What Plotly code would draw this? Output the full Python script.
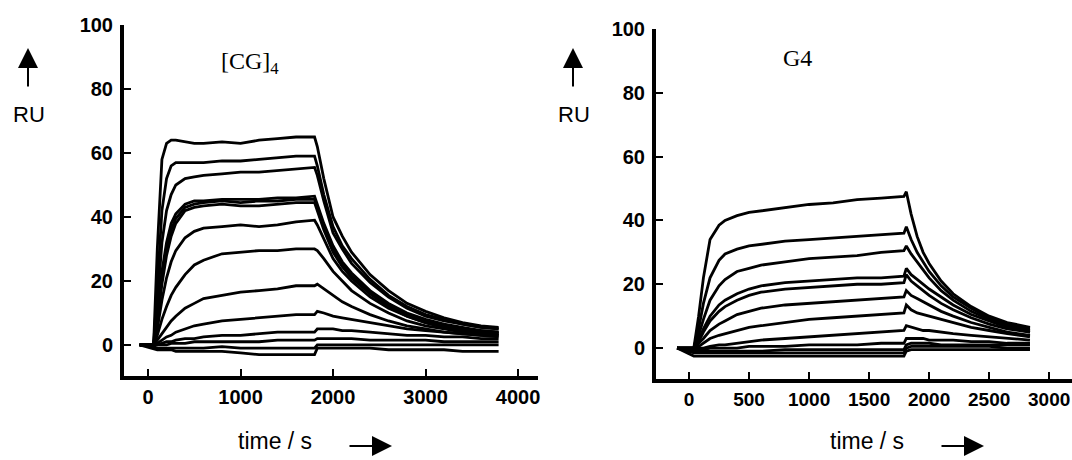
import plotly.graph_objects as go

# ---------------- data: [CG]4 panel (time in s, response in RU) ----------------
t_cg = [-90, 60, 100, 150, 200, 250, 300, 400, 500, 600, 800, 1000, 1200, 1400, 1600,
        1800, 1830, 1900, 2000, 2100, 2200, 2400, 2600, 2800, 3000, 3200, 3400, 3600, 3790]

cg_01 = [0, 0, 30, 58, 63, 64, 64, 63.5, 63, 63, 63.5, 63, 64, 64.5, 65, 65, 62, 52, 40, 34, 29, 22, 17, 13, 10.5, 8.5, 7, 6, 5.5]
cg_02 = [0, 0, 18, 42, 52, 56, 57, 57, 57, 57, 57.5, 57.5, 58, 58.5, 59, 59, 56, 47, 37, 31, 27, 20.5, 15.5, 12, 9.5, 8, 6.5, 5.5, 5]
cg_03 = [0, 0, 13, 32, 42, 47, 50, 52, 52.5, 53, 53.5, 54, 54, 54.5, 55, 55.5, 53, 45, 35, 30, 25.5, 19.5, 15, 11.5, 9, 7.5, 6.5, 5.5, 5]
cg_04 = [0, 0, 9, 23, 32, 38, 41, 44, 45, 45, 45.5, 45.5, 45.5, 46, 46, 46.5, 44, 38, 31, 26, 22.5, 17, 13, 10, 8, 6.5, 5.5, 4.5, 4]
cg_05 = [0, 0, 8, 21, 30, 36, 39.5, 43, 44, 44.5, 45, 44.5, 45, 45, 45.5, 45.5, 43, 37, 30, 25, 21.5, 16.5, 12.5, 9.5, 7.5, 6, 5, 4.5, 4]
cg_06 = [0, 0, 7, 19, 28, 34, 38, 42, 43, 43.5, 44, 43.5, 43.5, 44, 44.5, 44.5, 42, 36, 29, 24.5, 21, 16, 12, 9, 7, 5.5, 4.5, 4, 3.5]
cg_07 = [0, 0, 5, 14, 21, 26, 29.5, 33.5, 35.5, 36.5, 37, 37.5, 37, 37.5, 38.5, 39, 37.5, 33, 27, 23, 20, 15, 11.5, 9, 7, 5.5, 4.5, 4, 3.5]
cg_08 = [0, 0, 3, 8, 12, 15.5, 18, 22, 25, 26.5, 28.5, 29, 29.5, 29.5, 30, 30, 29.5, 27, 23, 20, 17, 13, 10, 7.5, 6, 5, 4, 3.5, 3]
cg_09 = [0, 0, 1.5, 3.5, 5.5, 7.5, 9, 11.5, 13, 14.5, 15.5, 16.5, 17, 17.5, 18.5, 18.5, 19, 17.5, 15.5, 13.5, 12, 9.5, 7.5, 6, 5, 4, 3.5, 3, 2.5]
cg_10 = [0, 0, 0.5, 1.5, 2.5, 3, 4, 5, 6, 6.5, 7.5, 8, 8.5, 9, 9.5, 9.5, 10.5, 10, 9, 8.5, 8, 7, 6, 5, 4.5, 4, 3.5, 3, 3]
cg_11 = [0, 0, 0, 0.5, 1, 1, 1.5, 2, 2, 2.5, 3, 3, 3.5, 4, 4, 4, 5, 5, 5, 4.5, 4.5, 4, 3.5, 3, 3, 2.5, 2.5, 2, 2]
cg_12 = [0, 0, 0, 0, 0, 0.5, 0.5, 0.5, 1, 1, 1, 1, 1, 1.5, 1.5, 1.5, 2, 2, 2, 2, 2, 1.5, 1.5, 1.5, 1.5, 1, 1, 1, 1]
cg_13 = [0, -0.5, -1, -1, -1, -1, -1, -1, -1, -1, -0.5, -1, -1, -1, -1, -1, 0, 0, 0, 0, 0, 0, 0, 0, 0, 0, 0, 0, 0]
cg_14 = [0, -1, -1.5, -1.5, -1.5, -1.5, -2, -2, -2, -2, -2, -2.5, -3, -3, -3, -3, -1, -1, -1, -1, -1, -1, -1.5, -1.5, -1.5, -1.5, -2, -2, -2]

# ---------------- data: G4 panel ----------------
t_g4 = [-100, 40, 80, 120, 175, 250, 300, 400, 500, 600, 800, 1000, 1200, 1400, 1600,
        1790, 1810, 1850, 1900, 1950, 2000, 2100, 2200, 2350, 2500, 2650, 2840]

g4_01 = [0, 0, 10, 22, 34, 38.5, 40, 41.5, 42.5, 43, 44, 45, 45.5, 46.5, 47, 47.5, 49, 42, 35, 30, 26.5, 21, 17, 13, 10, 8, 6.5]
g4_02 = [0, 0, 6, 14, 22, 27.5, 29.5, 31, 32, 32.5, 33.5, 34, 34.5, 35, 35.5, 36, 38, 34, 30, 27, 24, 19.5, 16, 12.5, 9.5, 7.5, 6]
g4_03 = [0, 0, 4, 9, 15, 19.5, 21.5, 24, 25, 26, 27, 28, 28.5, 29, 30, 30.5, 32, 29.5, 27, 24.5, 22, 18, 15, 11.5, 9, 7, 5.5]
g4_04 = [0, 0, 2.5, 6, 10, 13.5, 15, 17, 18.5, 19.5, 20.5, 21, 21.5, 22, 22, 22.5, 25, 23, 21.5, 20, 18.5, 16, 13.5, 10.5, 8.5, 6.5, 5]
g4_05 = [0, 0, 2, 5, 8.5, 11.5, 13, 15, 16.5, 17.5, 18.5, 19, 19.5, 20, 20, 20.5, 23, 21, 19.5, 18, 16.5, 14, 12, 9.5, 7.5, 6, 5]
g4_06 = [0, 0, 1.5, 3, 5.5, 7.5, 8.5, 10.5, 11.5, 12.5, 13.5, 14, 14.5, 15, 15.5, 16, 18, 16.5, 15.5, 14.5, 13.5, 11.5, 10, 8, 6.5, 5, 4]
g4_07 = [0, 0, 0.5, 1.5, 3, 4, 4.5, 5.5, 6.5, 7, 8, 9, 9.5, 10, 10.5, 11, 13.5, 12, 11, 10.5, 10, 9, 8, 6.5, 5.5, 4.5, 3.5]
g4_08 = [0, 0, 0, 0, 0.5, 1, 1, 1.5, 2, 2.5, 3, 3.5, 4, 4.5, 5, 5.5, 7, 6.5, 6, 5.5, 5.5, 5, 4.5, 4, 3.5, 3, 2.5]
g4_09 = [0, -0.5, -0.5, -0.5, 0, 0, 0, 0, 0.5, 0.5, 0.5, 1, 1, 1, 1.5, 1.5, 3, 3, 3, 3, 2.5, 2.5, 2.5, 2, 2, 1.5, 1.5]
g4_10 = [0, -1, -1, -1, -1, -1, -1, -1, -1, -1, -0.5, -0.5, -0.5, -0.5, -0.5, -0.5, 1, 1.5, 1.5, 1.5, 1.5, 1, 1, 1, 1, 1, 1]
g4_11 = [0, -1.5, -1.5, -1.5, -1.5, -1.5, -1.5, -1.5, -1.5, -1.5, -1.5, -1.5, -1.5, -1.5, -1.5, -1.5, 0, 0.5, 0.5, 0.5, 0.5, 0.5, 0.5, 0.5, 0.5, 0, 0]
g4_12 = [0, -2.5, -2.5, -2.5, -2.5, -2.5, -2.5, -2.5, -2.5, -2.5, -2.5, -2.5, -2.5, -2.5, -2.5, -2.5, -1, -0.5, -0.5, -0.5, -0.5, -0.5, -0.5, -0.5, -0.5, -0.5, -0.5]

y_ticks = [0, 20, 40, 60, 80, 100]
x_ticks_cg = [0, 1000, 2000, 3000, 4000]
x_ticks_g4 = [0, 500, 1000, 1500, 2000, 2500, 3000]

cg_series = [cg_01, cg_02, cg_03, cg_04, cg_05, cg_06, cg_07, cg_08, cg_09, cg_10, cg_11, cg_12, cg_13, cg_14]
g4_series = [g4_01, g4_02, g4_03, g4_04, g4_05, g4_06, g4_07, g4_08, g4_09, g4_10, g4_11, g4_12]

W, H = 1072, 460
SANS = "Liberation Sans, Arial, Helvetica, sans-serif"
SERIF = "Liberation Serif, Times New Roman, serif"

fig = go.Figure()
line = dict(color="black", width=2.8)
for s in cg_series:
    fig.add_trace(go.Scatter(x=t_cg, y=s, mode="lines", line=line, xaxis="x", yaxis="y",
                             showlegend=False, hoverinfo="skip"))
for s in g4_series:
    fig.add_trace(go.Scatter(x=t_g4, y=s, mode="lines", line=line, xaxis="x2", yaxis="y2",
                             showlegend=False, hoverinfo="skip"))

tickfont = dict(family=SANS, size=20, color="black", weight="bold")
tickfont_g4x = dict(family=SANS, size=19, color="black", weight="bold")
common_x = dict(showgrid=False, zeroline=False, showline=True, linecolor="black", linewidth=4,
                ticks="inside", ticklen=7, tickwidth=2, tickcolor="black", tickfont=tickfont)
common_y = dict(showgrid=False, zeroline=False, showline=True, linecolor="black", linewidth=4,
                ticks="inside", ticklen=7, tickwidth=2, tickcolor="black", tickfont=tickfont,
                tickvals=y_ticks, ticklabelstandoff=3)


def px(x):
    return x / W


def py(y):
    return 1 - y / H


fig.update_layout(
    width=W, height=H, margin=dict(l=0, r=0, t=0, b=0, autoexpand=False),
    paper_bgcolor="white", plot_bgcolor="white", hovermode=False,
    xaxis=dict(common_x, domain=[px(124), px(538)], range=[-260, 4216], tickvals=x_ticks_cg,
               anchor="y"),
    yaxis=dict(common_y, domain=[py(376), py(25)], range=[-9.7, 100], anchor="x"),
    xaxis2=dict(common_x, domain=[px(656), 1.0], range=[-275, 3190], tickvals=x_ticks_g4,
                anchor="y2", tickfont=tickfont_g4x),
    yaxis2=dict(common_y, domain=[py(379), py(29)], range=[-9.7, 100], anchor="x2"),
)

ann = []


def label(text, x, y, font):
    ann.append(dict(text=text, x=px(x), y=py(y), xref="paper", yref="paper",
                    xanchor="center", yanchor="middle", showarrow=False, font=font))


def arrow(xh, yh, ax, ay):
    ann.append(dict(text="", x=px(xh), y=py(yh), xref="paper", yref="paper",
                    showarrow=True, ax=ax, ay=ay, arrowhead=2, arrowsize=2.0, arrowwidth=2,
                    arrowcolor="black"))


# panel titles
label("[CG]<sub>4</sub>", 250, 63, dict(family=SERIF, size=24, color="black"))
label("G4", 797, 58, dict(family=SERIF, size=24, color="black"))
# RU labels with up arrows
for xa in (29, 574):
    label("RU", xa, 114, dict(family=SANS, size=22, color="black"))
    arrow(xa - 1, 48, 0, 40)
# time labels with right arrows
for xt, xh in ((275, 392), (867, 984)):
    label("time / s", xt, 441, dict(family=SANS, size=23, color="black"))
    arrow(xh, 446, -44, 0)
fig.update_layout(annotations=ann)

fig.write_html("out.html", config={"displayModeBar": False},
               post_script="document.body.style.margin='0';document.body.style.overflow='hidden';")
